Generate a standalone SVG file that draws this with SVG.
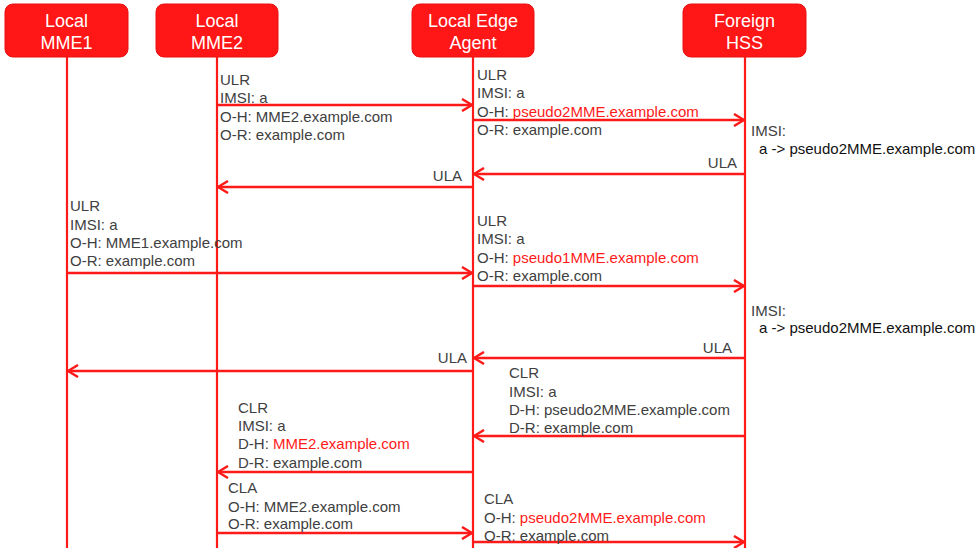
<svg xmlns="http://www.w3.org/2000/svg" width="978" height="548" viewBox="0 0 978 548">
<style>
.box{fill:#ff1616;stroke:#e81010;stroke-width:1}
.hd{font-family:"Liberation Sans",Arial,sans-serif;font-size:18px;fill:#fff;text-anchor:middle}
.life{stroke:#ff1a1a;stroke-width:2.2;fill:none}
.msg{stroke:#ff1a1a;stroke-width:2.5;fill:none}
.t{font-family:"Liberation Sans",Arial,sans-serif;font-size:15px;fill:#404040}
.r{fill:#ff1a1a}
.k{fill:#111}
.end{text-anchor:end}
</style>
<defs>
<marker id="ah" viewBox="0 0 12 14" refX="11" refY="7" markerWidth="12" markerHeight="14" markerUnits="userSpaceOnUse" orient="auto">
<path d="M1,1 L11,7 L1,13" fill="none" stroke="#ff1a1a" stroke-width="2.5"/>
</marker>
</defs>
<g id="node-mme1">
<rect class="box" x="5" y="4" width="123" height="53" rx="8"/>
<text class="hd" x="66.5" y="27">Local</text>
<text class="hd" x="66.5" y="49">MME1</text>
</g>
<g id="node-mme2">
<rect class="box" x="156" y="4" width="122" height="53" rx="8"/>
<text class="hd" x="217" y="27">Local</text>
<text class="hd" x="217" y="49">MME2</text>
</g>
<g id="node-agent">
<rect class="box" x="412" y="4" width="122" height="53" rx="8"/>
<text class="hd" x="473" y="27">Local Edge</text>
<text class="hd" x="473" y="49">Agent</text>
</g>
<g id="node-hss">
<rect class="box" x="683" y="4" width="123" height="53" rx="8"/>
<text class="hd" x="744.5" y="27">Foreign</text>
<text class="hd" x="744.5" y="49">HSS</text>
</g>
<g id="lifelines">
<line class="life" x1="67" y1="57" x2="67" y2="548"/>
<line class="life" x1="217" y1="57" x2="217" y2="548"/>
<line class="life" x1="473" y1="57" x2="473" y2="548"/>
<line class="life" x1="745" y1="57" x2="745" y2="548"/>
</g>
<g id="connectors">
<line class="msg" x1="217" y1="105" x2="472" y2="105" marker-end="url(#ah)"/>
<line class="msg" x1="473" y1="120" x2="744" y2="120" marker-end="url(#ah)"/>
<line class="msg" x1="745" y1="174" x2="474" y2="174" marker-end="url(#ah)"/>
<line class="msg" x1="473" y1="187" x2="218" y2="187" marker-end="url(#ah)"/>
<line class="msg" x1="67" y1="273" x2="472" y2="273" marker-end="url(#ah)"/>
<line class="msg" x1="473" y1="286" x2="744" y2="286" marker-end="url(#ah)"/>
<line class="msg" x1="745" y1="358" x2="474" y2="358" marker-end="url(#ah)"/>
<line class="msg" x1="473" y1="371" x2="68" y2="371" marker-end="url(#ah)"/>
<line class="msg" x1="745" y1="436" x2="474" y2="436" marker-end="url(#ah)"/>
<line class="msg" x1="473" y1="472" x2="218" y2="472" marker-end="url(#ah)"/>
<line class="msg" x1="217" y1="533" x2="472" y2="533" marker-end="url(#ah)"/>
<line class="msg" x1="473" y1="542" x2="744" y2="542" marker-end="url(#ah)"/>
</g>
<g id="labels">
<text class="t" x="220" y="85">ULR</text>
<text class="t" x="220" y="103">IMSI: a</text>
<text class="t" x="220" y="122">O-H: MME2.example.com</text>
<text class="t" x="220" y="140">O-R: example.com</text>

<text class="t" x="477" y="80">ULR</text>
<text class="t" x="477" y="98">IMSI: a</text>
<text class="t" x="477" y="117">O-H: <tspan class="r">pseudo2MME.example.com</tspan></text>
<text class="t" x="477" y="135">O-R: example.com</text>

<text class="t" x="751" y="136">IMSI:</text>
<text class="t k" x="759" y="154">a -&gt; pseudo2MME.example.com</text>

<text class="t end" x="737" y="168">ULA</text>
<text class="t end" x="462" y="181">ULA</text>

<text class="t" x="70" y="211">ULR</text>
<text class="t" x="70" y="230">IMSI: a</text>
<text class="t" x="70" y="248">O-H: MME1.example.com</text>
<text class="t" x="70" y="266">O-R: example.com</text>

<text class="t" x="477" y="226">ULR</text>
<text class="t" x="477" y="244">IMSI: a</text>
<text class="t" x="477" y="263">O-H: <tspan class="r">pseudo1MME.example.com</tspan></text>
<text class="t" x="477" y="281">O-R: example.com</text>

<text class="t" x="751" y="316">IMSI:</text>
<text class="t k" x="759" y="333">a -&gt; pseudo2MME.example.com</text>

<text class="t end" x="732" y="353">ULA</text>
<text class="t end" x="467" y="363">ULA</text>

<text class="t" x="509" y="378">CLR</text>
<text class="t" x="509" y="397">IMSI: a</text>
<text class="t" x="509" y="415">D-H: pseudo2MME.example.com</text>
<text class="t" x="509" y="433">D-R: example.com</text>

<text class="t" x="238" y="413">CLR</text>
<text class="t" x="238" y="431">IMSI: a</text>
<text class="t" x="238" y="449">D-H: <tspan class="r">MME2.example.com</tspan></text>
<text class="t" x="238" y="468">D-R: example.com</text>

<text class="t" x="228" y="493">CLA</text>
<text class="t" x="228" y="512">O-H: MME2.example.com</text>
<text class="t" x="228" y="529">O-R: example.com</text>

<text class="t" x="484" y="504">CLA</text>
<text class="t" x="484" y="523">O-H: <tspan class="r">pseudo2MME.example.com</tspan></text>
<text class="t" x="484" y="541">O-R: example.com</text>
</g>
</svg>
